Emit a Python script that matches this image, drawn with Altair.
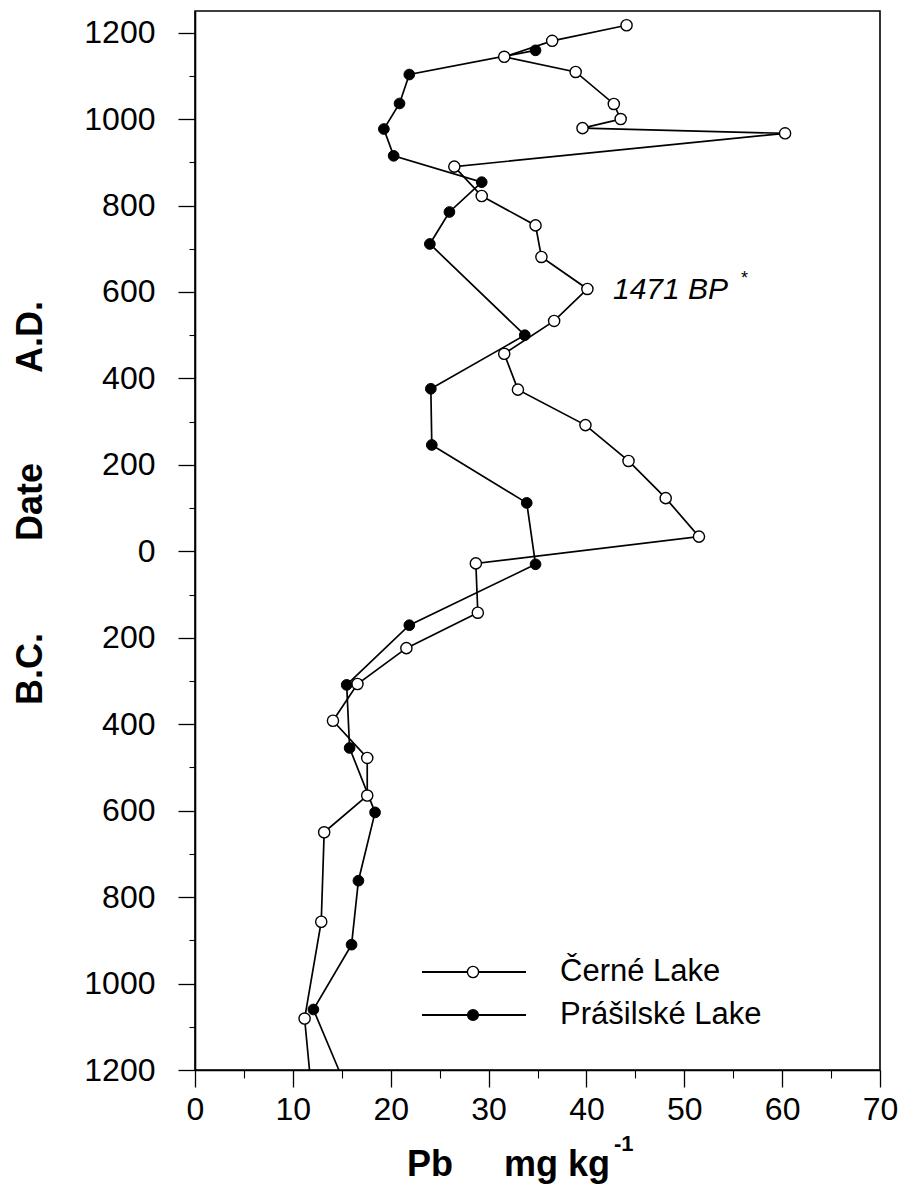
import altair as alt
import pandas as pd

# ---- data (date: + A.D., - B.C.; Pb in mg/kg) ----
cerne_date = [1217, 1181, 1144, 1109, 1035, 1000, 979, 967, 890, 822, 754, 681, 607, 533,
              457, 374, 292, 209, 123, 34, -28, -142, -224, -307, -392, -478, -565, -650,
              -857, -1081, -1200]
cerne_pb = [44.1, 36.5, 31.6, 38.9, 42.8, 43.5, 39.6, 60.3, 26.5, 29.3, 34.8, 35.4, 40.1, 36.7,
            31.6, 33.0, 39.9, 44.3, 48.1, 51.5, 28.7, 28.9, 21.6, 16.6, 14.1, 17.6, 17.6, 13.2,
            12.9, 11.2, 11.7]
prasil_date = [1159, 1103, 1036, 977, 915, 854, 785, 711, 500, 376, 246, 112, -30, -171,
               -309, -455, -604, -762, -910, -1060, -1200]
prasil_pb = [34.8, 21.9, 20.9, 19.3, 20.3, 29.3, 26.0, 24.0, 33.7, 24.1, 24.2, 33.9, 34.8, 21.9,
             15.5, 15.8, 18.4, 16.7, 16.0, 12.1, 14.7]

series_names = ["Černé Lake", "Prášilské Lake"]
y_major = list(range(-1200, 1201, 200))
y_minor = list(range(-1100, 1201, 200))
x_major = list(range(0, 71, 10))
x_minor = list(range(5, 70, 10))

rows = []
for i, (d, v) in enumerate(zip(cerne_date, cerne_pb)):
    rows.append({"series": series_names[0], "idx": i, "date": d, "pb": v})
for i, (d, v) in enumerate(zip(prasil_date, prasil_pb)):
    rows.append({"series": series_names[1], "idx": i, "date": d, "pb": v})
df = pd.DataFrame(rows)
one = pd.DataFrame({"k": [0]})

FONT = "Liberation Sans"
xscale = alt.Scale(domain=[0, 70], nice=False, zero=False)
yscale = alt.Scale(domain=[-1200, 1250], nice=False, zero=False)

x_axis = alt.Axis(values=x_major, orient="bottom", title=None, grid=False, tickSize=17,
                  tickColor="black", tickWidth=1.3, domainColor="black", domainWidth=1.6,
                  labelFont=FONT, labelFontSize=32, labelColor="black", labelPadding=7,
                  labelFlush=False, labelOverlap=False)
y_axis = alt.Axis(values=y_major, orient="left", title=None, grid=False, tickSize=17,
                  tickColor="black", tickWidth=1.3, domainColor="black", domainWidth=1.6,
                  labelFont=FONT, labelFontSize=32, labelColor="black", labelPadding=23,
                  labelExpr="abs(datum.value)", labelFlush=False, labelOverlap=False)

base = alt.Chart(df)

lines = base.mark_line(color="black", strokeWidth=1.7).encode(
    x=alt.X("pb:Q", scale=xscale, axis=x_axis),
    y=alt.Y("date:Q", scale=yscale, axis=y_axis),
    detail="series:N",
    order="idx:Q",
)

pts_c = base.transform_filter(
    (alt.datum.series == series_names[0]) & (alt.datum.date > -1199)
).mark_point(shape="circle", filled=True, fill="white", stroke="black", strokeWidth=1.4,
             size=125, opacity=1).encode(
    x=alt.X("pb:Q", scale=xscale, axis=None),
    y=alt.Y("date:Q", scale=yscale, axis=None),
)
pts_p = base.transform_filter(
    (alt.datum.series == series_names[1]) & (alt.datum.date > -1199)
).mark_point(shape="circle", filled=True, fill="black", stroke="black", strokeWidth=1,
             size=115, opacity=1).encode(
    x=alt.X("pb:Q", scale=xscale, axis=None),
    y=alt.Y("date:Q", scale=yscale, axis=None),
)

# minor ticks
minor = base.mark_point(opacity=0).encode(
    x=alt.X("pb:Q", scale=xscale,
            axis=alt.Axis(values=x_minor, orient="bottom", labels=False, title=None, grid=False,
                          domain=False, tickSize=8, tickColor="black", tickWidth=1.1)),
    y=alt.Y("date:Q", scale=yscale,
            axis=alt.Axis(values=y_minor, orient="left", labels=False, title=None, grid=False,
                          domain=False, tickSize=6, tickColor="black", tickWidth=1.1)),
)


def txt(text, x, y, size, bold=False, italic=False, angle=0, align="left", baseline="middle"):
    kw = dict(text=text, font=FONT, fontSize=size, color="black", align=align,
              baseline=baseline, angle=angle)
    if bold:
        kw["fontWeight"] = "bold"
    if italic:
        kw["fontStyle"] = "italic"
    return alt.Chart(one).mark_text(**kw).encode(x=alt.value(x), y=alt.value(y))


# axis titles
ytitle = [
    txt("A.D.", -164, 326, 36, bold=True, angle=270, align="center"),
    txt("Date", -164, 491, 36, bold=True, angle=270, align="center"),
    txt("B.C.", -164, 658, 36, bold=True, angle=270, align="center"),
]
xtitle = [
    txt("Pb", 212, 1165, 36, bold=True, baseline="alphabetic"),
    txt("mg kg", 309, 1165, 36, bold=True, baseline="alphabetic"),
    txt("-1", 419, 1140, 22, bold=True, baseline="alphabetic"),
]

# annotation
annot = [
    txt("1471 BP", 418, 279, 30, italic=True),
    txt("*", 546, 268, 18),
]

# legend
leg = []
for yy, nm, filled in [(961, series_names[0], False), (1004, series_names[1], True)]:
    leg.append(alt.Chart(one).mark_rule(color="black", strokeWidth=2).encode(
        x=alt.value(227), x2=alt.value(331), y=alt.value(yy)))
    leg.append(alt.Chart(one).mark_point(
        shape="circle", filled=True, fill="black" if filled else "white", stroke="black",
        strokeWidth=1.4, size=125 if not filled else 115, opacity=1).encode(
        x=alt.value(278), y=alt.value(yy)))
    leg.append(txt(nm, 365, yy, 31))

chart = alt.layer(lines, minor, pts_c, pts_p, *ytitle, *xtitle, *annot, *leg).resolve_axis(
    x="independent", y="independent"
).resolve_scale(x="shared", y="shared").properties(
    width=685, height=1059,
    padding={"left": 195, "top": 11, "right": 21, "bottom": 124},
    autosize=alt.AutoSizeParams(type="none"),
    background="white",
).configure_view(stroke="black", strokeWidth=1.6)

chart.save("out.html", embed_options={"renderer": "svg", "actions": False})
